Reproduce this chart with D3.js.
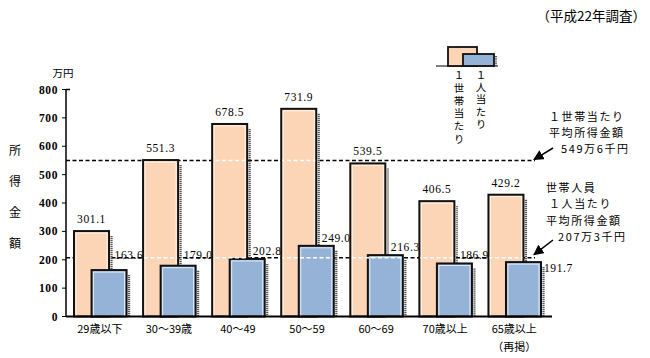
<!DOCTYPE html>
<html><head><meta charset="utf-8">
<script src="https://cdn.jsdelivr.net/npm/d3@7"></script>
<style>
body{margin:0;background:#fff;}
svg{display:block;}
.num{font-family:"Liberation Serif","DejaVu Serif",serif;font-size:11.5px;letter-spacing:0.6px;}
.jp{font-family:"Noto Sans CJK JP",sans-serif;}
.vt{writing-mode:vertical-rl;text-orientation:upright;}
</style></head>
<body>
<svg id="c" width="650" height="358"></svg>
<script>
const categories = ["29歳以下","30～39歳","40～49","50～59","60～69","70歳以上","65歳以上"];
const householdIncome = [301.1, 551.3, 678.5, 731.9, 539.5, 406.5, 429.2];
const perPersonIncome = [163.6, 179.0, 202.8, 249.0, 216.3, 186.9, 191.7];
const yTicks = [0,100,200,300,400,500,600,700,800];
const avgHousehold = 549.6;
const avgPerson = 207.3;

const svg = d3.select("#c");
const y = d3.scaleLinear().domain([0,800]).range([316.5, 89.5]);
const x = d3.scaleBand().domain(categories).range([66, 549.5]).padding(0);
const bw = x.bandwidth();
const oOff = bw*0.116, bW = bw*0.507, bOff = bw*0.37;
const orange = "#FBD5B5", blue = "#95B3D7";

// title
svg.append("text").attr("class","jp").attr("x",646).attr("y",21).attr("text-anchor","end")
  .attr("font-size",13.5).text("（平成22年調査）");

// y axis title
"所得金額".split("").forEach((ch,i)=>{
  svg.append("text").attr("class","jp").attr("x",15).attr("y",155+i*31).attr("text-anchor","middle")
   .attr("font-size",12).text(ch);
});
svg.append("text").attr("class","jp").attr("x",63).attr("y",77).attr("text-anchor","middle")
   .attr("font-size",10.5).text("万円");

// y axis
svg.append("line").attr("x1",66).attr("x2",66).attr("y1",y(800)).attr("y2",y(0)).attr("stroke","#000").attr("stroke-width",1.5);
svg.append("line").attr("x1",66).attr("x2",70).attr("y1",y(800)).attr("y2",y(800)).attr("stroke","#000").attr("stroke-width",1.5);
yTicks.forEach(t=>{
  svg.append("line").attr("x1",62).attr("x2",66).attr("y1",y(t)).attr("y2",y(t)).attr("stroke","#000").attr("stroke-width",1);
  svg.append("text").attr("class","num").attr("x",58).attr("y",y(t)+4).attr("text-anchor","end")
    .attr("font-size",11).attr("font-weight","bold").text(t);
});

// dashed lines (black, under bars)
const lineEnd = 535;
[avgHousehold, avgPerson].forEach(v=>{
  svg.append("line").attr("x1",66).attr("x2",lineEnd).attr("y1",y(v)).attr("y2",y(v))
   .attr("stroke","#000").attr("stroke-width",1.6).attr("stroke-dasharray","4,2.5");
});

function drawBar(g, x0, w, v, fill){
  const top = y(v), bot = y(0);
  g.append("line").attr("x1",x0+w+2.5).attr("x2",x0+w+2.5).attr("y1",top+5).attr("y2",bot)
   .attr("stroke","#555").attr("stroke-width",2.2).attr("stroke-dasharray","1.2,0.8");
  g.append("rect").attr("x",x0).attr("y",top).attr("width",w).attr("height",bot-top)
   .attr("fill",fill).attr("stroke","#111").attr("stroke-width",2);
  g.append("rect").attr("x",x0+2).attr("y",top+2).attr("width",w-4).attr("height",bot-top-2)
   .attr("fill","none").attr("stroke","#fff").attr("stroke-width",0.9).attr("opacity",0.8);
}

const defs = svg.append("defs");
const clip = defs.append("clipPath").attr("id","barclip");

categories.forEach((c,i)=>{
  const g = svg.append("g");
  const ox = x(c)+oOff, bx = x(c)+bOff;
  drawBar(g, ox, bW, householdIncome[i], orange);
  drawBar(g, bx, bW, perPersonIncome[i], blue);
  if (i>0) clip.append("rect").attr("x",ox+1).attr("y",y(householdIncome[i])+1).attr("width",bW-2).attr("height",y(0)-y(householdIncome[i])-1);
  clip.append("rect").attr("x",bx+1).attr("y",y(perPersonIncome[i])+1).attr("width",bW-2).attr("height",y(0)-y(perPersonIncome[i])-1);
  // labels
  svg.append("text").attr("class","num").attr("x",ox+bW/2).attr("y",y(householdIncome[i])-8)
    .attr("text-anchor","middle").text(householdIncome[i].toFixed(1));
  const last = i===categories.length-1;
  const lx = last ? bx+bW+3 : bx+bW-12;
  const ly = last ? y(perPersonIncome[i])+10 : Math.min(y(perPersonIncome[i])-8, y(avgPerson)-3)+4;
  svg.append("text").attr("class","num").attr("x",lx).attr("y",ly).text(perPersonIncome[i].toFixed(1));
});

// white dashes over bars
[avgHousehold, avgPerson].forEach(v=>{
  svg.append("line").attr("x1",66).attr("x2",lineEnd).attr("y1",y(v)).attr("y2",y(v))
   .attr("stroke","#fff").attr("stroke-width",1.4).attr("stroke-dasharray","4,2.5")
   .attr("clip-path","url(#barclip)");
});

// x axis
svg.append("line").attr("x1",66).attr("x2",552).attr("y1",y(0)).attr("y2",y(0)).attr("stroke","#000").attr("stroke-width",2);
categories.forEach((c,i)=>{
  svg.append("text").attr("class","jp").attr("x",x(c)+bw*0.49).attr("y",333).attr("text-anchor","middle")
   .attr("font-size",11).text(c);
});
svg.append("text").attr("class","jp").attr("x",x(categories[6])+bw*0.49).attr("y",351).attr("text-anchor","middle")
   .attr("font-size",11).text("（再掲）");

// legend
const lg = svg.append("g");
lg.append("line").attr("x1",436).attr("x2",498).attr("y1",66).attr("y2",66).attr("stroke","#000").attr("stroke-width",1.2);
lg.append("rect").attr("x",448).attr("y",47).attr("width",29).attr("height",19).attr("fill",orange).attr("stroke","#111").attr("stroke-width",1.8);
lg.append("line").attr("x1",496).attr("x2",496).attr("y1",56).attr("y2",66).attr("stroke","#555").attr("stroke-width",2).attr("stroke-dasharray","1,0.8");
lg.append("rect").attr("x",463).attr("y",54).attr("width",31).attr("height",12).attr("fill",blue).attr("stroke","#111").attr("stroke-width",1.8);
lg.append("text").attr("class","jp vt").attr("x",459).attr("y",70).attr("font-size",10.5)
  .attr("letter-spacing","2.2px").text("１世帯当たり");
lg.append("text").attr("class","jp vt").attr("x",481).attr("y",70).attr("font-size",10.5)
  .attr("letter-spacing","1.6px").text("１人当たり");

// annotations
defs.append("marker").attr("id","arr").attr("viewBox","0 0 10 10").attr("refX",9).attr("refY",5)
  .attr("markerWidth",7).attr("markerHeight",7).attr("orient","auto")
  .append("path").attr("d","M0,0L10,5L0,10z").attr("fill","#000");
svg.append("line").attr("x1",553).attr("y1",148).attr("x2",534).attr("y2",y(avgHousehold)-1)
  .attr("stroke","#000").attr("stroke-width",1.5).attr("marker-end","url(#arr)");
svg.append("line").attr("x1",553).attr("y1",240).attr("x2",534).attr("y2",y(avgPerson)-3)
  .attr("stroke","#000").attr("stroke-width",1.5).attr("marker-end","url(#arr)");

function block(lines, y0, step){
  lines.forEach((l,i)=>{
    svg.append("text").attr("class","jp").attr("font-size",11).attr("letter-spacing","1.6px")
      .attr("x",l[1]).attr("y",y0+i*step).text(l[0]);
  });
}
block([["１世帯当たり",549],["平均所得金額",549],["549万6千円",561]], 121, 16);
block([["世帯人員",546],["１人当たり",549],["平均所得金額",546],["207万3千円",558]], 192, 16.3);
</script>
</body></html>
